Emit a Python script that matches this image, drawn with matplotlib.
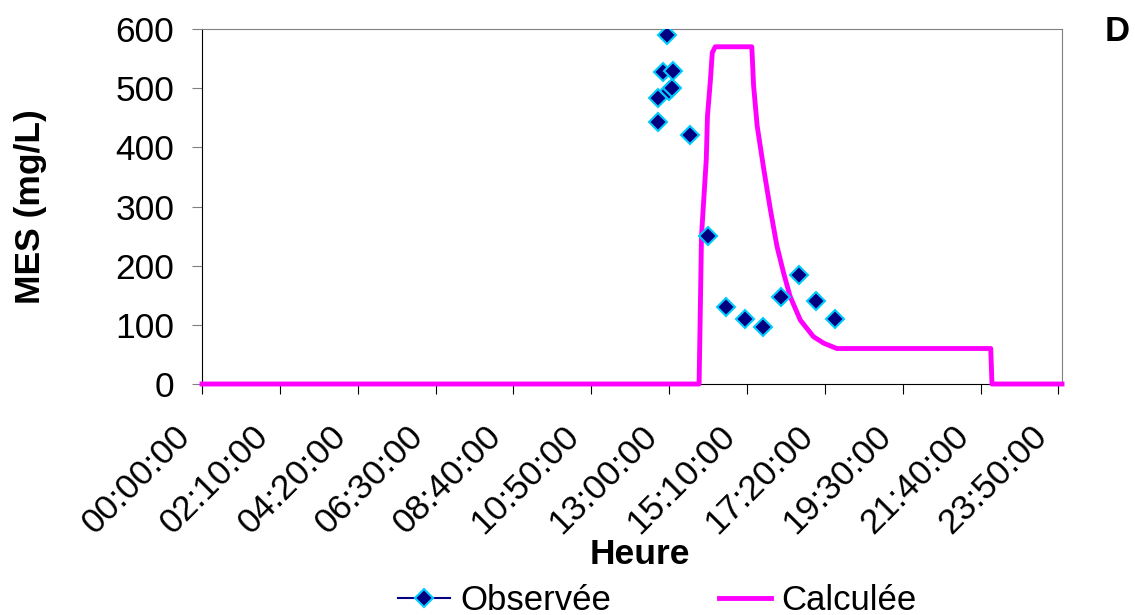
import matplotlib.pyplot as plt
from matplotlib.lines import Line2D
from matplotlib.transforms import ScaledTranslation

plt.rcParams['font.family'] = ['Liberation Sans', 'DejaVu Sans']

# observed samples (minutes since midnight, mg/L)
obs_t = [761, 762, 769, 776, 779, 784, 786, 814, 845, 875, 906, 936, 966, 996, 1026, 1057]
obs_mes = [443, 484, 527, 590, 495, 501, 529, 421, 250, 131, 110, 97, 147, 185, 140, 110]

# simulated curve
calc_t = [0, 830, 834, 842, 844, 849, 852, 857, 918, 921, 927, 938, 949, 960, 971,
          982, 999, 1021, 1038, 1060, 1317, 1319, 1436]
calc_mes = [0, 0, 250, 380, 453, 515, 560, 570, 570, 504, 436, 363, 295, 233, 188,
            148, 108, 80, 69, 60, 60, 0, 0]

tick_min = list(range(0, 1431, 130))
tick_lbl = ['%02d:%02d:00' % (m // 60, m % 60) for m in tick_min]

fig = plt.figure(figsize=(11.35, 6.15), dpi=100)
ax = fig.add_axes([0.178, 0.3756, 0.7577, 0.5772])

ax.plot(obs_t, obs_mes, linestyle='none', marker='D', markersize=9,
        markerfacecolor='#000080', markeredgecolor='#00ccff', markeredgewidth=1.5, zorder=4)
ax.plot(calc_t, calc_mes, color='#ff00ff', linewidth=3.5, clip_on=False, zorder=3)

ax.set_xlim(0, 1436)
ax.set_ylim(0, 600)
ax.set_yticks(range(0, 601, 100))
ax.set_xticks(tick_min)
ax.set_xticklabels(tick_lbl, rotation=45, ha='right', va='center', rotation_mode='anchor')
ax.tick_params(axis='y', labelsize=25.5, length=7, color='#808080', pad=13)
ax.tick_params(axis='x', labelsize=25.5, length=7, color='black', pad=27)
shift = ScaledTranslation(-0.17, 0, fig.dpi_scale_trans)
for lbl in ax.get_xticklabels():
    lbl.set_transform(lbl.get_transform() + shift)

for s in ['top', 'right']:
    ax.spines[s].set_color('#808080')
for s in ['left', 'bottom']:
    ax.spines[s].set_color('black')

ax.set_ylabel('MES (mg/L)', fontsize=25.5, fontweight='bold', va='center')
ax.yaxis.set_label_coords(-0.2, 0.5)
ax.set_xlabel('Heure', fontsize=25.5, fontweight='bold', va='center')
ax.xaxis.set_label_coords(0.509, -0.48)

fig.text(0.984, 0.948, 'D', fontsize=25, fontweight='bold', ha='center', va='center')

handles = [
    Line2D([], [], color='#000080', linewidth=1.5, marker='D', markersize=9,
           markerfacecolor='#000080', markeredgecolor='#00ccff', markeredgewidth=1.5),
    Line2D([], [], color='#ff00ff', linewidth=3.5),
]
fig.legend(handles, ['Observée', 'Calculée'], loc='center', bbox_to_anchor=(0.579, 0.024),
           ncol=2, frameon=False, fontsize=25, columnspacing=3.1, handlelength=1.5,
           handletextpad=0.3, borderpad=0)

fig.savefig('out.png', dpi=100)
